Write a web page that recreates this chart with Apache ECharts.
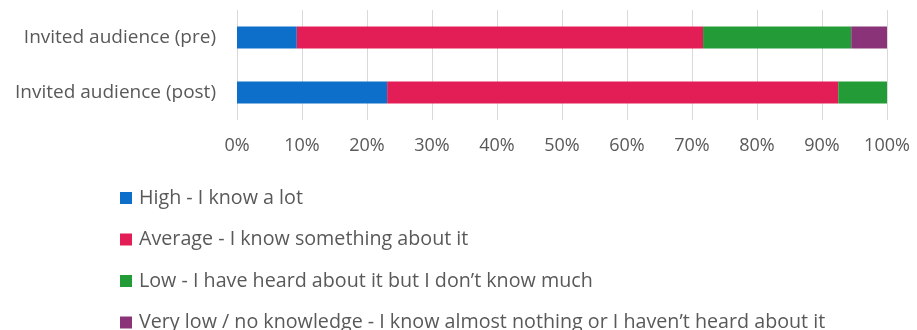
<!DOCTYPE html>
<html>
<head>
<meta charset="utf-8">
<script src="https://cdn.jsdelivr.net/npm/echarts@6/dist/echarts.min.js"></script>
<style>
html,body{margin:0;padding:0;background:#fff;}
#chart{width:917px;height:330px;}
</style>
</head>
<body>
<div id="chart"></div>
<script>
const categories = ['Invited audience (post)', 'Invited audience (pre)'];
const seriesNames = [
  'High - I know a lot',
  'Average - I know something about it',
  'Low - I have heard about it but I don\u2019t know much',
  'Very low / no knowledge - I know almost nothing or I haven\u2019t heard about it'
];
const highVals = [23.1, 9.2];
const averageVals = [69.4, 62.5];
const lowVals = [7.5, 22.8];
const veryLowVals = [0, 5.5];
const colors = ['#0E6FCA', '#E31E56', '#239B37', '#8A3378'];
const xTicks = [0, 10, 20, 30, 40, 50, 60, 70, 80, 90, 100];

const FONT = '"Open Sans", "Liberation Sans", sans-serif';
const TEXT = '#595959';
const dataSets = [highVals, averageVals, lowVals, veryLowVals];

const chart = echarts.init(document.getElementById('chart'), null, {renderer: 'canvas'});
chart.setOption({
  animation: false,
  color: colors,
  grid: {left: 237, top: 10, width: 650, height: 110, containLabel: false},
  xAxis: {
    type: 'value', min: xTicks[0], max: xTicks[xTicks.length - 1], interval: 10,
    axisLine: {show: false}, axisTick: {show: false},
    splitLine: {show: true, lineStyle: {color: '#D9D9D9', width: 1}},
    axisLabel: {formatter: v => v + '%', color: TEXT, fontFamily: FONT, fontSize: 18, margin: 17}
  },
  yAxis: {
    type: 'category', data: categories,
    axisLine: {show: false}, axisTick: {show: false},
    axisLabel: {color: TEXT, fontFamily: FONT, fontSize: 19, margin: 21}
  },
  legend: {
    orient: 'vertical', left: 120, top: 188, height: 200, padding: 0,
    itemWidth: 12, itemHeight: 12, itemGap: 21.5,
    icon: 'rect',
    textStyle: {color: TEXT, fontFamily: FONT, fontSize: 19.7, lineHeight: 20, padding: [0, 0, 0, 2]},
    data: seriesNames
  },
  series: seriesNames.map((name, i) => ({
    name: name, type: 'bar', stack: 'total', barWidth: 22,
    data: dataSets[i],
    itemStyle: {color: colors[i]}
  }))
});
</script>
</body>
</html>
